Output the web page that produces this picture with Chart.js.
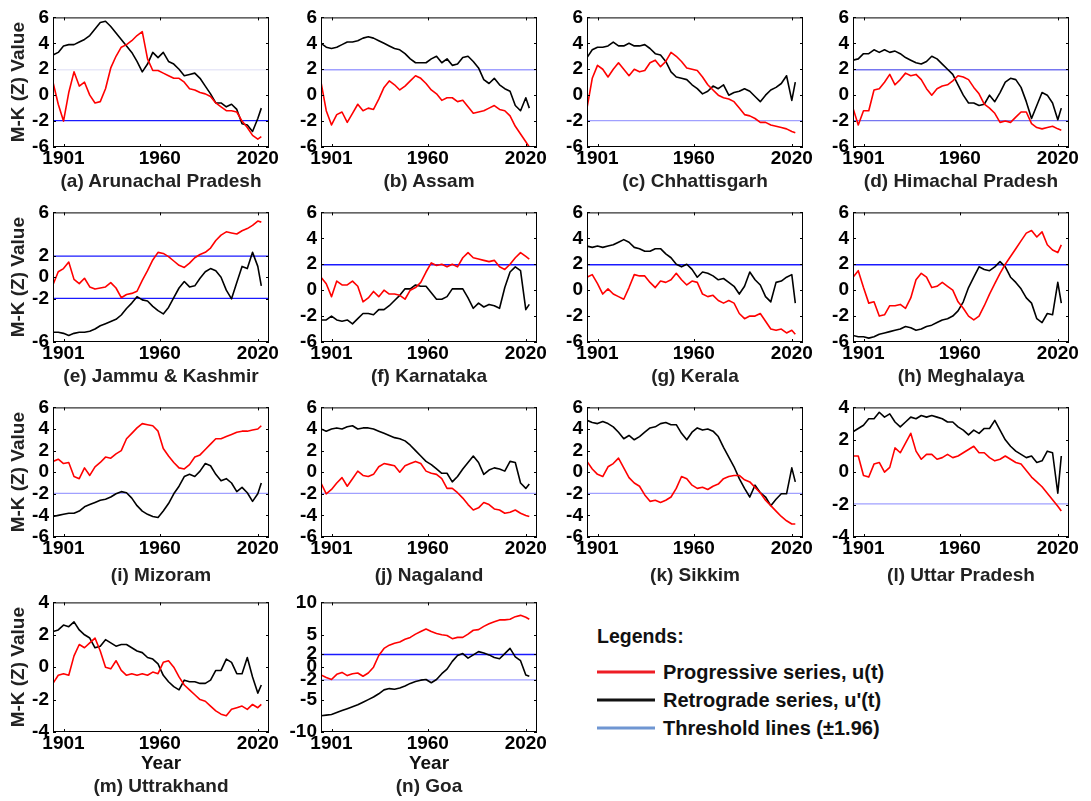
<!DOCTYPE html>
<html><head><meta charset="utf-8">
<script src="https://cdn.jsdelivr.net/npm/chart.js@4.4.0/dist/chart.umd.min.js"></script>
<style>
html,body{margin:0;padding:0;background:#fff;}
body{width:1091px;height:801px;position:relative;overflow:hidden;font-family:"Liberation Sans",Arial,sans-serif;}
.cap{position:absolute;font-weight:bold;font-size:19px;color:#222;white-space:nowrap;transform:translate(-50%,-50%);}
.leg{position:absolute;font-weight:bold;font-size:20px;color:#111;white-space:nowrap;transform:translateY(-50%);}
.legline{position:absolute;height:3px;transform:translateY(-50%);}
</style></head><body>
<script>
// ---------- data ----------
const years = [1901,1904,1907,1910,1913,1916,1919,1922,1925,1928,1931,1934,1937,1940,1943,1946,1949,1952,1955,1958,1961,1964,1967,1970,1973,1976,1979,1982,1985,1988,1991,1994,1997,2000,2003,2006,2009,2012,2015,2018,2020];
const xTickAt = [1907, 1962, 2018];
const xTickLabels = ['1901', '1960', '2020'];
const thresholdValues = [1.96, -1.96];

const titles = ['(a) Arunachal Pradesh','(b) Assam','(c) Chhattisgarh','(d) Himachal Pradesh','(e) Jammu & Kashmir','(f) Karnataka','(g) Kerala','(h) Meghalaya','(i) Mizoram','(j) Nagaland','(k) Sikkim','(l) Uttar Pradesh','(m) Uttrakhand','(n) Goa'];

const yTicksA = [6,4,2,0,-2,-4];      const yLabelsA = ['6','4','2','0','-2','-6'];
const yTicksE = [6,2,0,-2,-6];        const yLabelsE = ['6','2','0','-2','-6'];
const yTicksI = [6,4,2,0,-2,-4,-6];   const yLabelsI = ['6','4','2','0','-2','-4','-6'];
const yTicksL = [4,2,0,-2,-4];        const yLabelsL = ['4','2','0','-2','-4'];
const yTicksN = [10,5,2,0,-2,-5,-10]; const yLabelsN = ['10','5','2','0','-2','-5','-10'];

const aRed   = [1.0,-0.7,-2.0,0.2,1.8,0.7,1.0,0.0,-0.6,-0.5,0.5,2.1,3.0,3.7,3.9,4.2,4.6,4.9,2.8,1.9,1.9,1.7,1.5,1.3,1.3,1.0,0.5,0.4,0.2,0.1,-0.1,-0.6,-0.9,-1.2,-1.2,-1.3,-2.0,-2.5,-3.1,-3.4,-3.2];
const aBlack = [3.1,3.3,3.8,3.9,3.9,4.1,4.3,4.6,5.1,5.6,5.7,5.3,4.8,4.3,3.8,3.3,2.6,1.8,2.4,3.3,2.9,3.3,2.6,2.4,2.0,1.5,1.6,1.7,1.3,0.7,0.1,-0.6,-0.6,-0.9,-0.7,-1.1,-2.2,-2.3,-2.8,-1.8,-1.0];
const bRed   = [1.0,-1.2,-2.3,-1.5,-1.3,-2.1,-1.4,-0.7,-1.2,-1.0,-1.1,-0.3,0.6,1.1,0.8,0.4,0.7,1.1,1.5,1.3,0.9,0.4,0.1,-0.4,-0.2,-0.2,-0.5,-0.4,-0.9,-1.4,-1.3,-1.2,-1.0,-0.8,-1.1,-1.2,-1.6,-2.4,-3.0,-3.6,-4.0];
const bBlack = [4.0,3.7,3.6,3.7,3.9,4.1,4.1,4.2,4.4,4.5,4.4,4.2,4.0,3.8,3.6,3.5,3.2,2.8,2.5,2.5,2.5,2.8,3.0,2.5,2.8,2.3,2.4,2.9,3.0,2.6,2.1,1.2,0.9,1.3,0.8,0.5,0.3,-0.8,-1.2,-0.2,-1.0];
const cRed   = [-1.0,1.3,2.3,2.0,1.4,2.0,2.5,2.0,1.5,2.0,1.8,1.9,2.5,2.7,2.2,2.6,3.3,3.0,2.6,2.1,2.0,1.9,1.4,0.8,0.4,0.0,-0.2,-0.3,-0.5,-1.0,-1.5,-1.6,-1.8,-2.1,-2.1,-2.3,-2.4,-2.5,-2.6,-2.8,-2.9];
const cBlack = [2.9,3.5,3.7,3.7,3.8,4.1,3.8,3.8,4.0,3.8,3.8,3.9,3.6,3.2,3.1,2.6,1.8,1.4,1.3,1.2,0.8,0.5,0.1,0.3,0.7,0.5,0.8,0.0,0.2,0.3,0.5,0.3,-0.1,-0.5,0.0,0.4,0.6,0.9,1.5,-0.4,1.0];
const dRed   = [-1.0,-2.3,-1.2,-1.2,0.4,0.5,1.0,1.6,0.8,1.2,1.7,1.5,1.6,1.2,0.5,0.0,0.5,0.7,0.8,1.1,1.5,1.4,1.2,0.6,0.1,-0.7,-1.0,-1.4,-2.1,-2.0,-2.1,-1.7,-1.3,-1.3,-2.2,-2.5,-2.6,-2.5,-2.4,-2.6,-2.7];
const dBlack = [2.7,2.8,3.2,3.2,3.5,3.3,3.5,3.3,3.4,3.2,2.9,2.7,2.5,2.4,2.6,3.0,2.8,2.4,2.0,1.6,0.8,0.0,-0.6,-0.6,-0.8,-0.7,0.0,-0.5,0.2,1.0,1.3,1.2,0.6,-0.5,-1.8,-0.8,0.2,0.0,-0.6,-1.9,-1.0];
const eRed   = [-0.7,0.5,0.8,1.4,-0.2,-0.6,-0.1,-0.9,-1.1,-1.0,-0.9,-0.5,-1.0,-1.9,-1.6,-1.5,-1.3,-0.3,0.6,1.6,2.3,2.2,1.9,1.5,1.1,0.9,1.3,1.8,2.1,2.3,2.7,3.4,3.9,4.2,4.1,4.0,4.3,4.5,4.8,5.2,5.1];
const eBlack = [-5.1,-5.1,-5.2,-5.4,-5.2,-5.1,-5.1,-5.0,-4.8,-4.5,-4.3,-4.1,-3.9,-3.5,-2.9,-2.4,-1.8,-2.1,-2.2,-2.7,-3.1,-3.4,-2.8,-1.9,-1.0,-0.4,-0.9,-0.8,-0.1,0.5,0.8,0.6,0.0,-1.2,-2.0,-0.5,1.0,0.8,2.3,1.0,-0.8];
const fRed   = [1.0,0.5,-0.5,0.7,0.4,0.4,0.7,0.3,-0.9,-0.6,-0.1,-0.5,0.0,-0.3,-0.3,-0.4,-0.7,0.0,0.2,0.6,1.4,2.1,1.9,2.0,1.8,2.0,1.8,2.5,2.9,2.5,2.4,2.3,2.2,2.3,1.8,1.6,2.0,2.5,2.9,2.6,2.4];
const fBlack = [-2.3,-2.3,-2.0,-2.3,-2.4,-2.3,-2.6,-2.2,-1.8,-1.8,-1.9,-1.5,-1.5,-1.2,-0.8,-0.4,0.1,0.1,0.4,0.3,0.3,-0.2,-0.7,-0.7,-0.5,0.1,0.1,0.1,-0.6,-1.4,-1.0,-1.3,-1.1,-1.2,-1.4,0.2,1.4,1.8,1.5,-1.5,-1.1];
const gRed   = [1.0,1.2,0.5,-0.3,0.1,-0.3,-0.5,-0.7,0.2,1.2,1.1,1.1,0.6,0.2,0.7,0.6,0.8,1.3,0.8,0.4,0.7,0.6,-0.3,-0.5,-0.4,-0.8,-1.0,-0.8,-1.0,-1.8,-2.2,-2.0,-2.0,-1.8,-2.4,-3.0,-3.1,-3.0,-3.3,-3.1,-3.4];
const gBlack = [3.4,3.3,3.4,3.3,3.4,3.5,3.7,3.9,3.7,3.3,3.2,3.0,3.0,3.2,3.2,2.8,2.5,2.0,1.8,2.0,1.6,1.0,1.4,1.3,1.1,0.8,0.9,0.6,0.3,-0.3,0.3,1.4,0.8,0.4,-0.5,-0.9,0.6,0.7,1.0,1.2,-1.0];
const hRed   = [1.0,1.5,0.2,-1.0,-0.9,-2.0,-1.9,-1.2,-1.2,-1.1,-1.4,-0.6,0.8,1.3,1.0,0.2,0.3,0.6,0.3,0.0,-0.9,-1.4,-2.0,-2.3,-2.0,-1.2,-0.3,0.5,1.3,2.0,2.6,3.2,3.8,4.4,4.6,4.1,4.5,3.5,3.1,2.9,3.5];
const hBlack = [-3.5,-3.6,-3.6,-3.7,-3.6,-3.4,-3.3,-3.2,-3.1,-3.0,-2.8,-2.9,-3.1,-3.0,-2.8,-2.7,-2.5,-2.3,-2.2,-2.0,-1.6,-0.9,0.2,1.0,1.8,1.6,1.5,1.8,2.2,1.8,1.0,0.6,0.1,-0.6,-1.0,-2.2,-2.5,-1.8,-1.9,0.6,-1.0];
const iRed   = [1.0,1.2,0.8,0.9,-0.4,-0.6,0.4,-0.3,0.5,0.9,1.4,1.3,1.7,2.0,3.1,3.6,4.1,4.5,4.4,4.3,3.8,2.2,1.5,0.9,0.4,0.3,0.7,1.4,1.6,2.1,2.6,3.1,3.1,3.3,3.5,3.7,3.8,3.8,3.9,4.0,4.3];
const iBlack = [-4.1,-4.0,-3.9,-3.8,-3.8,-3.6,-3.2,-3.0,-2.8,-2.6,-2.5,-2.3,-2.0,-1.8,-1.9,-2.4,-3.1,-3.6,-3.9,-4.1,-4.2,-3.6,-2.9,-2.0,-1.3,-0.4,-0.2,-0.4,0.1,0.8,0.6,-0.2,-0.8,-0.6,-1.0,-1.8,-1.4,-1.9,-2.7,-2.0,-1.0];
const jRed   = [-1.0,-2.0,-1.6,-1.0,-0.5,-1.3,-0.6,0.1,-0.3,-0.4,-0.2,0.5,0.8,0.7,0.6,0.0,0.6,0.8,1.0,0.8,0.1,-0.1,-0.2,-0.6,-1.5,-1.5,-1.9,-2.4,-3.0,-3.5,-3.3,-2.8,-3.0,-3.4,-3.5,-3.8,-3.7,-3.5,-3.8,-4.0,-4.1];
const jBlack = [4.0,3.8,4.0,4.1,4.0,4.2,4.3,4.0,4.1,4.1,4.0,3.8,3.6,3.4,3.2,3.1,2.9,2.5,2.0,1.5,1.0,0.7,0.3,-0.1,-0.1,-0.9,-0.4,0.3,0.9,1.5,0.9,-0.2,0.2,0.4,0.3,0.1,1.0,0.9,-1.0,-1.5,-1.1];
const kRed   = [1.0,0.3,-0.2,-0.4,0.5,0.8,1.3,0.4,-0.5,-1.0,-1.3,-2.1,-2.7,-2.6,-2.8,-2.6,-2.3,-1.5,-0.4,-0.6,-1.2,-1.5,-1.4,-1.6,-1.3,-1.1,-0.6,-0.4,-0.3,-0.3,-0.7,-0.9,-1.4,-1.9,-2.6,-3.1,-3.6,-4.1,-4.5,-4.8,-4.8];
const kBlack = [4.8,4.6,4.5,4.7,4.5,4.2,3.7,3.1,3.4,3.0,3.3,3.7,4.1,4.2,4.5,4.6,4.4,4.4,3.6,3.0,3.7,4.1,3.9,4.0,3.8,3.3,2.3,1.4,0.5,-0.6,-1.5,-2.3,-1.2,-1.9,-2.3,-3.1,-2.5,-2.0,-2.0,0.4,-0.9];
const lRed   = [1.0,1.0,-0.2,-0.3,0.5,0.6,0.0,0.3,1.5,1.2,1.8,2.4,1.3,0.8,1.1,1.1,0.8,0.9,1.1,0.9,1.0,1.2,1.4,1.6,1.2,1.2,0.9,0.7,0.8,1.0,0.8,0.6,0.5,0.1,-0.3,-0.6,-0.9,-1.3,-1.7,-2.1,-2.4];
const lBlack = [2.5,2.7,2.9,3.3,3.3,3.7,3.4,3.6,3.1,2.8,3.1,3.4,3.3,3.5,3.4,3.5,3.4,3.3,3.1,3.1,2.8,2.6,2.3,2.6,2.4,2.7,2.7,3.2,2.6,2.0,1.6,1.3,1.1,0.9,1.0,0.6,0.7,1.3,1.2,-1.3,1.0];
const mRed   = [-1.0,-0.5,-0.4,-0.5,0.7,1.4,1.2,1.5,1.8,1.0,0.0,-0.1,0.4,-0.2,-0.5,-0.4,-0.5,-0.4,-0.5,-0.3,-0.4,0.3,0.4,0.0,-0.6,-1.1,-1.4,-1.7,-2.0,-2.1,-2.4,-2.7,-2.9,-3.0,-2.6,-2.5,-2.4,-2.6,-2.3,-2.5,-2.3];
const mBlack = [2.2,2.3,2.6,2.5,2.8,2.3,2.0,1.8,1.2,1.3,1.7,1.5,1.3,1.4,1.4,1.2,1.0,0.9,0.6,0.5,0.2,-0.5,-0.9,-1.2,-1.4,-0.8,-0.9,-0.9,-1.0,-1.0,-0.8,-0.2,-0.2,0.5,0.3,-0.4,-0.4,0.6,-0.6,-1.6,-1.1];
const nRed   = [-1.2,-1.6,-1.9,-1.1,-0.8,-1.3,-1.0,-0.9,-1.4,-0.9,0.0,1.8,2.9,3.4,3.7,3.9,4.3,4.6,5.1,5.5,5.9,5.5,5.2,5.0,4.9,4.4,4.6,4.6,5.1,5.7,5.8,6.3,6.7,7.0,7.3,7.3,7.4,7.8,8.0,7.7,7.4];
const nBlack = [-7.5,-7.4,-7.3,-7.0,-6.7,-6.4,-6.1,-5.8,-5.4,-5.0,-4.6,-4.1,-3.5,-3.3,-3.4,-3.2,-2.9,-2.5,-2.2,-2.0,-1.9,-2.4,-1.9,-1.0,-0.3,0.9,1.8,2.1,1.4,1.9,2.4,2.2,1.9,1.5,1.3,2.1,2.9,1.6,1.0,-1.2,-1.4];

const legendTitle = 'Legends:';
const legendLabels = ['Progressive series, u(t)', "Retrograde series, u'(t)", 'Threshold lines (\u00b11.96)'];
const yAxisTitle = 'M-K (Z) Value';
const xAxisTitle = 'Year';

// ---------- styles / layout ----------
const thrColor = {deep:'#1a1aff', medium:'#7676f0', light:'#a0a0ff', faint:'#e8e8f8'};
const panels = [
  {red:aRed, black:aBlack, yt:yTicksA, yl:yLabelsA, up:'faint',  lo:'deep'},
  {red:bRed, black:bBlack, yt:yTicksA, yl:yLabelsA, up:'light',  lo:null},
  {red:cRed, black:cBlack, yt:yTicksA, yl:yLabelsA, up:null,     lo:'light'},
  {red:dRed, black:dBlack, yt:yTicksA, yl:yLabelsA, up:'medium', lo:'medium'},
  {red:eRed, black:eBlack, yt:yTicksE, yl:yLabelsE, up:'deep',   lo:'deep'},
  {red:fRed, black:fBlack, yt:yTicksA, yl:yLabelsA, up:'deep',   lo:null},
  {red:gRed, black:gBlack, yt:yTicksA, yl:yLabelsA, up:'deep',   lo:null},
  {red:hRed, black:hBlack, yt:yTicksA, yl:yLabelsA, up:'deep',   lo:null},
  {red:iRed, black:iBlack, yt:yTicksI, yl:yLabelsI, up:null,     lo:'light'},
  {red:jRed, black:jBlack, yt:yTicksI, yl:yLabelsI, up:null,     lo:'light'},
  {red:kRed, black:kBlack, yt:yTicksI, yl:yLabelsI, up:null,     lo:'light'},
  {red:lRed, black:lBlack, yt:yTicksL, yl:yLabelsL, up:null,     lo:'light'},
  {red:mRed, black:mBlack, yt:yTicksL, yl:yLabelsL, up:null,     lo:null},
  {red:nRed, black:nBlack, yt:yTicksN, yl:yLabelsN, up:'deep',   lo:'light'}
];
const colLeft = [53, 321, 587, 853];
const rowTop = [14, 209, 404, 599];
const capY = [181, 376, 575, 786];
const PW = 216, PH = 133, PADL = 53, PADT = 12, PADR = 22;
const X_MIN = 1901, X_MAX = 2024.4;
const FONT = "'Liberation Sans', Arial, sans-serif";

const framePlugin = {
  id: 'frame',
  afterDatasetsDraw(chart) {
    const {ctx, chartArea: a, scales: {x, y}} = chart;
    ctx.save();
    ctx.strokeStyle = '#000';
    ctx.lineWidth = 1;
    ctx.strokeRect(a.left + 0.5, a.top + 0.5, a.right - a.left - 1, a.bottom - a.top - 1);
    ctx.beginPath();
    x.ticks.forEach(t => {
      const px = Math.round(x.getPixelForValue(t.value)) + 0.5;
      ctx.moveTo(px, a.bottom); ctx.lineTo(px, a.bottom - 3);
      ctx.moveTo(px, a.top); ctx.lineTo(px, a.top + 3);
    });
    y.ticks.forEach(t => {
      const py = Math.round(y.getPixelForValue(t.value)) + 0.5;
      ctx.moveTo(a.left, py); ctx.lineTo(a.left + 3, py);
      ctx.moveTo(a.right, py); ctx.lineTo(a.right - 3, py);
    });
    ctx.stroke();
    ctx.restore();
  }
};

panels.forEach((p, i) => {
  const row = Math.floor(i / 4), col = i % 4;
  const xH = row === 3 ? 46 : 24;
  const W = PADL + PW + PADR, H = PADT + PH + xH;
  const c = document.createElement('canvas');
  c.width = W; c.height = H;
  c.style.cssText = `position:absolute;left:${colLeft[col] - PADL}px;top:${rowTop[row] - PADT}px;width:${W}px;height:${H}px;`;
  document.body.appendChild(c);

  const cap = document.createElement('div');
  cap.className = 'cap';
  cap.textContent = titles[i];
  cap.style.left = (colLeft[col] + PW / 2) + 'px';
  cap.style.top = capY[row] + 'px';
  document.body.appendChild(cap);

  const pts = arr => years.map((yr, k) => ({x: yr, y: arr[k]}));
  const datasets = [
    {data: pts(p.red), borderColor: '#ff0000', borderWidth: 1.6},
    {data: pts(p.black), borderColor: '#000000', borderWidth: 1.6}
  ];
  [p.up, p.lo].forEach((s, k) => {
    if (!s) return;
    datasets.push({data: [{x: X_MIN, y: thresholdValues[k]}, {x: X_MAX, y: thresholdValues[k]}], borderColor: thrColor[s], borderWidth: 1.3});
  });
  datasets.forEach(d => { d.pointRadius = 0; d.tension = 0; d.fill = false; d.borderJoinStyle = 'round'; });

  const tickFont = {family: FONT, size: 19, weight: 'bold'};
  new Chart(c, {
    type: 'line',
    data: {datasets},
    options: {
      responsive: false, animation: false, devicePixelRatio: 1,
      layout: {padding: {top: PADT, right: PADR, left: 0, bottom: 0}},
      plugins: {legend: {display: false}, tooltip: {enabled: false}, title: {display: false}},
      scales: {
        x: {
          type: 'linear', min: X_MIN, max: X_MAX,
          grid: {display: false, drawTicks: false}, border: {display: false},
          afterBuildTicks: s => { s.ticks = xTickAt.map(v => ({value: v})); },
          afterFit: s => { s.height = xH; },
          ticks: {autoSkip: false, maxRotation: 0, padding: 0, color: '#000', font: tickFont,
                  callback: (v, idx) => xTickLabels[idx]},
          title: row === 3 ? {display: true, text: xAxisTitle, color: '#111', font: {family: FONT, size: 19, weight: 'bold', lineHeight: 1.2}, padding: {top: 0, bottom: 3}} : {display: false}
        },
        y: {
          min: Math.min(...p.yt), max: Math.max(...p.yt),
          grid: {display: false, drawTicks: false}, border: {display: false},
          afterBuildTicks: s => { s.ticks = p.yt.map(v => ({value: v})); },
          afterFit: s => { s.width = PADL; },
          ticks: {autoSkip: false, padding: 4, color: '#000', font: tickFont,
                  callback: (v, idx) => p.yl[idx]},
          title: col === 0 ? {display: true, text: yAxisTitle, color: '#222', font: {family: FONT, size: 19, weight: 'bold', lineHeight: 1.2}, padding: {top: 7, bottom: 0}} : {display: false}
        }
      }
    },
    plugins: [framePlugin]
  });
});

// ---------- legend ----------
const legColors = ['#ee1c24', '#111111', '#6f96d2'];
const legY = [672, 700, 728];
const lt = document.createElement('div');
lt.className = 'leg'; lt.textContent = legendTitle;
lt.style.left = '597px'; lt.style.top = '636px'; lt.style.fontSize = '19.5px';
document.body.appendChild(lt);
legendLabels.forEach((t, k) => {
  const ln = document.createElement('div');
  ln.className = 'legline';
  ln.style.cssText += `left:597px;top:${legY[k]}px;width:58px;background:${legColors[k]};`;
  document.body.appendChild(ln);
  const tx = document.createElement('div');
  tx.className = 'leg'; tx.textContent = t;
  tx.style.left = '663px'; tx.style.top = legY[k] + 'px';
  document.body.appendChild(tx);
});
</script>
</body></html>
